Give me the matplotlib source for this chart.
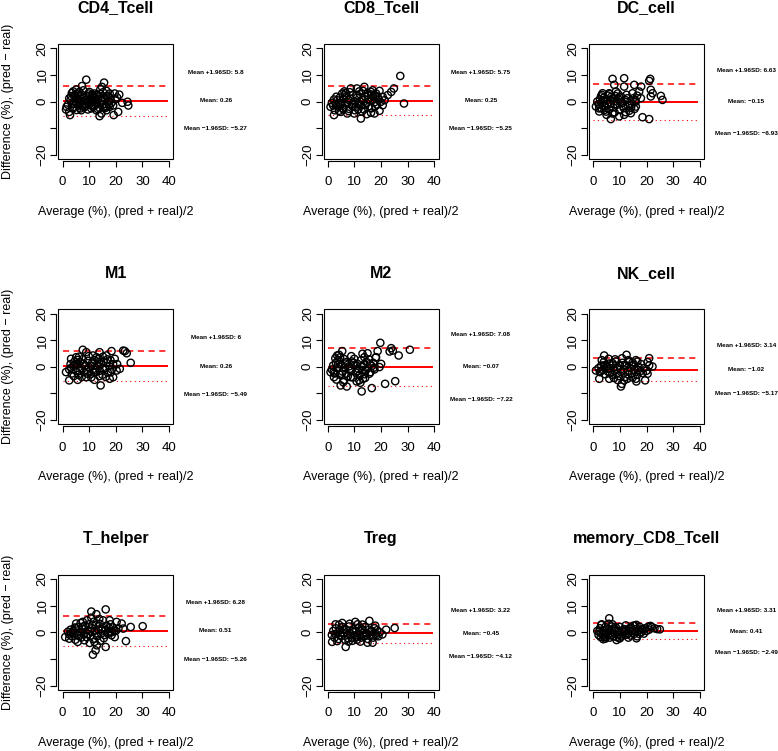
import numpy as np
import matplotlib
matplotlib.use("Agg")
import matplotlib.pyplot as plt
from matplotlib.patches import Rectangle

plt.rcParams['font.family'] = ['Liberation Sans', 'DejaVu Sans']

# panel names and the Bland-Altman limits printed on the right of each panel
names = ["CD4_Tcell", "CD8_Tcell", "DC_cell",
         "M1", "M2", "NK_cell",
         "T_helper", "Treg", "memory_CD8_Tcell"]
upper = [5.8, 5.75, 6.63, 6, 7.08, 3.14, 6.28, 3.22, 3.31]
means = [0.26, 0.25, -0.15, 0.26, -0.07, -1.02, 0.51, -0.45, 0.41]
lower = [-5.27, -5.25, -6.93, -5.49, -7.22, -5.17, -5.26, -4.12, -2.49]

# (average, difference) pairs
cd4_pts = [(8.9, 8.2), (15.6, 7.1), (14.8, 5.5), (7.3, 5.8), (5.1, 4.5), (3.5, 3.2), (4.4, 2.4),
           (6.3, 3.6), (10.1, 3.6), (12, 3), (16.5, 4), (17.7, 3), (19.6, 3), (21.3, 2.6),
           (22.4, -0.5), (24.4, -0.1), (24.7, -1.5), (20.9, -3.9), (19.2, -5.1), (13.9, -5.5),
           (14.6, -4.5), (2.8, -5.1), (1.3, -3), (2.5, -3.9), (4, -2.6), (7, -3.3), (9.5, -3),
           (11.4, -2), (12.7, -3.3), (16.5, -3.3), (17.7, -2), (18.4, -0.5),
           (3.0, 0.5), (3.5, -1), (4.5, 1.5), (5.0, -0.5), (5.5, 0.8), (6.0, -1.5), (6.5, 2),
           (7.0, 0), (7.5, -1.8), (8.0, 1.2), (8.5, -0.8), (9.0, 2.2), (9.5, 0.3), (10.0, -1.2),
           (10.5, 1), (11.0, -0.3), (11.5, 1.8), (12.0, -1.6), (12.5, 0.6), (13.0, -0.8),
           (13.5, 2), (14.0, -2.5), (14.5, 0.4), (15.0, 1.5), (15.5, -1), (16.0, 0.8),
           (16.5, -1.8), (17.0, 2.2), (17.5, 0), (18.0, 1.2), (2.0, -1.2), (4.0, 3.8), (5.8, 3),
           (6.8, -2.6), (8.2, -2.2), (9.8, 3), (11.2, 2.6), (12.8, 2.5), (13.2, -2.8),
           (15.2, 3.5), (16.2, -2.4), (19.0, -1.5), (19.8, 0.8), (20.5, 1.5), (7.8, 4.2),
           (10.8, -2.6), (3.8, -2.2), (5.3, -3.2), (14.2, 4.6), (1.5, -2), (2.5, 1.2),
           (3.2, 2), (4.2, -0.8), (5.2, 2.8), (6.2, 0.6), (7.2, 2.6), (8.4, -1.6), (9.2, -0.3),
           (10.2, 2.2), (11.2, -1.6), (12.2, 1.2), (13.4, 0.8), (14.2, 2.8), (15.4, -2.2),
           (16.4, 2), (17.4, -1.2), (6.4, -0.4), (8.8, 0.6), (12.4, -0.2)]

cd8_pts = [(27.2, 9.6), (28.6, -0.75), (24.8, 4.9), (23.8, 3.6), (22.5, 2.4), (20.6, 1.75),
           (13.7, 5.5), (10.9, 4.9), (8.6, 4.9), (6.7, 3.25), (5.4, 3), (2.3, 0.75), (1, -2),
           (2.3, -5.1), (4.8, -3.9), (7.3, -4.5), (9.9, -4.5), (12.4, -6.4), (14.6, -4.75),
           (16.2, -4.25), (17.5, -4.5), (19.4, -3.5), (20.6, -1.4), (21.3, 0.5), (16.2, 3.6),
           (18.1, 3), (19.4, 4), (15, 2.4),
           (3, -1), (3.5, 0.5), (4, -2), (4.5, 1.5), (5, -0.5), (5.5, -2.5), (6, 0.8),
           (6.5, -1.2), (7, 2), (7.5, -0.2), (8, -2.8), (8.5, 1), (9, -1), (9.5, 2.5), (10, 0),
           (10.5, -2), (11, 1.5), (11.5, -0.8), (12, 2.8), (12.5, -1.5), (13, 0.5), (13.5, -3),
           (14, 1.8), (14.5, -0.5), (15, 3.2), (15.5, -1.8), (16, 0.6), (16.5, -2.5), (17, 1.8),
           (17.5, -0.3), (18, 2.2), (18.5, -1.2), (19, 0.8), (19.8, -0.2), (6.2, 3.8), (8.2, 3.5),
           (11.8, 3.8), (13.2, 4), (16.8, 4.2), (2.6, -3.3), (4.2, -3.5), (7.8, -3.6),
           (10.2, -3.3), (12.8, -3.8), (2, -1.5), (1.5, -0.5),
           (3.2, 1.8), (4.8, -1.2), (6.4, 2.4), (7.8, 0.6), (9.4, -2), (10.8, 2.2), (12.2, 0),
           (13.8, -1.2), (15.2, 0.8), (16.4, 2.6), (17.8, -1.8), (18.8, 1.6), (5.8, -3), (11.4, -3)]

dc_pts = [(11.6, 8.75), (7.25, 8.5), (21.4, 8.5), (21, 7.75), (11.6, 5.6), (15.4, 6.25),
          (18, 5.6), (21.6, 4.4), (22.3, 3.1), (21.6, 1.9), (25.4, 2.1), (26, 0.6), (7.9, 6.25),
          (3.5, 3.1), (2.9, 1.9), (6, 3.1), (8.5, 3.75), (14.75, 3.1), (17.25, 3.75), (1, -1.9),
          (2.25, -3.75), (6.6, -6.6), (9.75, -5.6), (11.6, -5), (14.1, -4.4), (18.5, -5.9),
          (21, -6.6), (5, -5), (8, -4.1), (16, -1.9), (17.9, 1.25),
          (1.5, 0), (2, -1), (2.5, 0.8), (3, -2.5), (3.5, -0.5), (4, 1.5), (4.5, -1.8), (5, 0.3),
          (5.5, 2.2), (6, -3), (6.5, -0.8), (7, 1), (7.5, -2.2), (8, 0.2), (8.5, 2), (9, -1.2),
          (9.5, 0.8), (10, -3.2), (10.5, 1.8), (11, -0.5), (11.5, -2.5), (12, 0.6), (12.5, 2.5),
          (13, -1.5), (13.5, -3.5), (14, 0.2), (14.5, -1), (15, 1.2), (15.5, -2.8), (16, 0),
          (3.2, 2.5), (6.2, 2.8), (9.2, 3), (12.2, -4), (7.2, -4.5), (4.8, -3.8), (16.5, 2.2),
          (2.2, -2.6), (3.8, 0.4), (5.2, -1), (6.8, 1.8), (8.2, -1), (9.8, 1.6), (11.2, -1.8),
          (12.8, 1.2), (14.2, -2.4), (15.8, 0.4), (4.2, -3.2), (10.2, -0.2)]

m1_pts = [(7.6, 6.4), (8.9, 5.5), (13.9, 5.5), (18.4, 5.9), (22.8, 6.1), (24.1, 5.1),
          (23.4, 5.9), (25.6, 1.5), (3.2, 3), (5.1, 3.6), (11.4, 4.25), (16.5, 4.25), (19.6, 3),
          (21.5, -0.75), (20.3, -1.4), (1.3, -2), (2.5, -5.1), (5.7, -4.9), (8.9, -3.9),
          (12, -4.9), (14.3, -7), (17.7, -4.5), (19, -3.9),
          (2.5, -1), (3, 1), (3.5, -2.5), (4, 0.3), (4.5, 2), (5, -1.5), (5.5, 0.8), (6, -3),
          (6.5, 1.8), (7, -0.5), (7.5, 2.8), (8, -2), (8.5, 0.5), (9, -1.2), (9.5, 2.2), (10, -0.2),
          (10.5, -2.8), (11, 1.2), (11.5, -0.8), (12, 2.5), (12.5, -2), (13, 0.2), (13.5, 3),
          (14, -1.5), (14.5, 1), (15, -3), (15.5, 2), (16, -0.5), (16.5, 1.5), (17, -2.2),
          (17.5, 0.3), (18, 2.5), (18.5, -1), (19, 1), (6.2, 3.8), (9.8, 4), (12.8, 3.6),
          (15.2, 3.8), (4.2, -3.5), (7.2, -3.8), (10.8, -4), (13.8, -3.5), (16.2, -3.8), (20.5, 1),
          (3.2, -0.4), (4.8, 1), (6.4, -1.6), (7.8, 1.2), (9.4, -2.6), (10.8, 0.4), (12.2, -1.2),
          (13.6, 1.8), (15.4, -0.8), (16.8, 2.8), (18.2, -2), (5.8, 2.6), (11.8, -2.2)]

m2_pts = [(19.7, 9), (30.8, 6.4), (26.6, 4.25), (23.8, 7), (23.2, 5.75), (24.4, 6.1),
          (18.7, 5.9), (18.1, 3.6), (25.3, -5.4), (21.5, -6.4), (16.5, -8), (12.7, -9.25),
          (7.1, -7.4), (4.8, -7), (5.4, 5.9), (3.5, 4.25), (9.9, 3), (13, 4.9), (14.9, 5.1),
          (13.7, 3.6), (1, -2), (2.3, -3.9), (6.1, -5.1), (8.6, -3.9), (11.8, -5.1), (15.6, -2.6),
          (20, 1.1), (19.4, -0.1),
          (1.5, -1), (2, 0.5), (2.5, -2.5), (3, 1.5), (3.5, -0.5), (4, 2.5), (4.5, -3), (5, 0.8),
          (5.5, -1.8), (6, 3), (6.5, -0.3), (7, 1.8), (7.5, -3.5), (8, 0.2), (8.5, -1.5), (9, 2),
          (9.5, -4), (10, 0.5), (10.5, -2.2), (11, 1.2), (11.5, -0.8), (12, -3), (12.5, 2.5),
          (13, -1.2), (13.5, 0.8), (14, -4.2), (14.5, 1.8), (15, -0.5), (15.5, 2.8), (16, -2),
          (16.5, 0.3), (17, 1.5), (17.5, -1), (18, 3.5), (4.2, 4.5), (5.8, -5.8), (3.2, -4.8),
          (12.2, -6), (13.2, -4.5), (6.8, -2.6), (8.8, 4), (10.8, -5.5), (2.8, 3.2),
          (2.2, -1.8), (3.8, 1), (5.2, -2.6), (6.6, 1.2), (8.2, -0.8), (9.6, 1.4), (11.2, -1.6),
          (12.8, 0.2), (14.2, -1.4), (15.8, 1), (17.2, -0.4), (4.6, 3.6), (13.8, -2.8)]

nk_pts = [(4.1, 4.25), (12.5, 4.5), (16.6, 2), (21, 3.25), (20.4, 1.75), (22.25, 0.1),
          (10.4, -7.4), (10.75, -6.4), (11.6, -5.1), (19.5, -5.1), (16, -4.5), (20.4, -2.6),
          (2.25, -4.5), (6, -4.5), (1, -1.4),
          (2, -0.5), (2.5, -2), (3, 0.5), (3.5, -1.2), (4, 1.8), (4.5, -2.8), (5, 0), (5.5, -1.8),
          (6, 1.2), (6.5, -0.5), (7, -3), (7.5, 0.8), (8, -1.5), (8.5, 2), (9, -0.8), (9.5, -3.5),
          (10, 0.3), (10.5, -2), (11, 1.5), (11.5, -1), (12, -3.8), (12.5, 0.5), (13, -1.5),
          (13.5, 1.8), (14, -0.5), (14.5, -2.5), (15, 0.8), (15.5, -1.2), (16, 2.5), (16.5, -3),
          (17, 0), (17.5, -1.8), (18, 1), (19, -0.5), (20, -1.5), (21, 0.5), (3.2, 2.5),
          (5.8, 3), (8.2, 2.8), (10.8, 3.2), (13.2, 2.5), (7.8, -4.2), (9.2, -5), (12.8, -4.5),
          (14.8, -4), (16.2, -5.5),
          (2.8, -1.6), (4.2, 0.6), (5.8, -0.8), (7.2, 1.4), (8.8, -2.6), (10.2, -1), (11.8, 0.6),
          (13.2, -2.8), (14.8, 1.6), (16.8, -1.2), (18.6, -2.4), (6.2, -2.2)]

th_pts = [(16.2, 8.6), (10.8, 7.8), (12.7, 6.8), (10.8, 5.5), (30.1, 2.3), (25.6, 2),
          (22.8, 1.4), (22.2, 3.3), (20.3, 3.9), (23.8, -3.3), (16.2, -5.5), (12.4, -6.8),
          (11.4, -8.4), (12.9, -4.9), (12, -3.6), (5.7, -3.6), (2.5, -2.4), (1, -1.8),
          (19.6, -1.8), (18.4, -1.1), (5.1, 3.3), (7.6, 3.9), (15.2, 4.5), (17.7, 4.5),
          (2, 0.2), (2.5, -0.8), (3, 1), (3.5, -1.5), (4, 0.5), (4.5, -0.3), (5, 1.5), (5.5, -1),
          (6, 2), (6.5, 0), (7, -2), (7.5, 1.2), (8, -0.8), (8.5, 2.5), (9, -1.8), (9.5, 0.8),
          (10, 3), (10.5, -1.2), (11, 1.5), (11.5, -2.5), (12, 0.5), (12.5, 2.8), (13, -1.5),
          (13.5, 1), (14, 3.2), (14.5, -0.5), (15, 1.8), (15.5, -2.2), (16, 0.8), (16.5, 2.5),
          (17, -0.5), (17.5, 1.5), (18, 3), (18.5, 0), (19, 1.8), (20, 0.5), (21, 1.5), (9.2, 4.5),
          (11.8, 4), (13.8, 5), (6.8, 3.5), (4.8, -2.8), (8.2, -3), (10.2, -4), (14.2, -3.2),
          (3.2, -0.2), (4.6, 1.8), (6.2, -1.4), (7.8, 2.2), (9.6, -0.6), (11.2, 2.6), (12.6, -0.4),
          (14.6, 1.2), (15.8, -1), (17.6, 0.2), (19.4, 0.6), (10.4, 0.4)]

treg_pts = [(15.6, 4.3), (10.3, 3.9), (5.4, 3.5), (2.9, 3), (13, 2.9), (25.1, 1.6), (21.9, 1),
            (6.7, -5.5), (14.9, -3.9), (16.8, -3.9), (1.6, -3.6), (3.5, -3.3),
            (1.5, -1), (2, 0.5), (2.5, -2), (3, 1.5), (3.5, -0.5), (4, -2.5), (4.5, 0.8), (5, -1.5),
            (5.5, 2), (6, -0.2), (6.5, -2.8), (7, 1), (7.5, -1), (8, 2.2), (8.5, -0.5), (9, -2.2),
            (9.5, 1.2), (10, -1.2), (10.5, 0.3), (11, -2.8), (11.5, 1.8), (12, -0.8), (12.5, -2),
            (13, 0.8), (13.5, -1.5), (14, 2), (14.5, -0.3), (15, -2.5), (15.5, 1), (16, -1),
            (16.5, 0.5), (17, -2), (17.5, 1.5), (18, -0.5), (18.5, 0.8), (19, -1.5), (19.5, 0),
            (20.5, -0.8), (8.2, 3.2), (11.2, 3), (4.2, 2.8), (7.8, -3.5), (12.2, -3.5),
            (9.2, -3.2), (17.8, 2.5),
            (2.8, -0.6), (4.6, -1), (6.2, 1.2), (7.6, -2.2), (9.2, 0.4), (10.8, -1.8), (12.6, 1.4),
            (14.2, -1), (16.2, 0.2), (18.2, -1.2), (5.2, 0), (13.2, -0.2)]

mcd8_pts = [(6, 5.25), (3, 2.75), (25, 1.1), (20.6, 2.1), (21.5, 2.4), (15.6, 2.4), (8.75, -2.9),
            (10, -2.25), (3.75, -2.6), (16.25, -2.25),
            (1.5, 0.5), (2, -1), (2.5, 1.5), (3, -0.5), (3.5, 0.8), (4, -1.8), (4.5, 2), (5, 0),
            (5.5, -1.2), (6, 1.2), (6.5, -0.3), (7, 2.2), (7.5, -1.5), (8, 0.6), (8.5, 1.8),
            (9, -0.8), (9.5, 0.4), (10, 2), (10.5, -1.5), (11, 0.2), (11.5, 1.2), (12, -1),
            (12.5, 0.8), (13, -0.2), (13.5, 1.5), (14, -1.2), (14.5, 0.5), (15, 2.5), (15.5, -0.5),
            (16, 1.2), (16.5, -1.5), (17, 0.8), (17.5, 2), (18, 0), (18.5, 1.2), (19, -0.5),
            (19.5, 1.5), (20, 0.5), (21, 1), (22, 2), (23, 1.5), (24, 1.2), (5.8, 3.2), (7.2, 3),
            (3.2, 3), (12.2, 2.6), (16.2, 2.8), (2.8, -1.8), (6.2, -2), (9.8, -2.2), (13.2, -2),
            (4.5, -2.4),
            (2.2, 0.2), (3.8, -0.8), (5.2, 1.4), (6.8, -1), (8.2, 1.2), (9.8, -1), (11.4, 0.6),
            (12.8, -0.8), (14.2, 1.8), (15.8, 0.2), (17.2, -0.6), (18.8, 0.8), (4.8, -1.6),
            (8.8, -1.8)]

all_pts = [cd4_pts, cd8_pts, dc_pts, m1_pts, m2_pts, nk_pts, th_pts, treg_pts, mcd8_pts]


def fmt(v):
    # R prints negative numbers with a proper minus sign in these labels
    return str(v).replace('-', '\u2212')


W, H = 778, 751
fig = plt.figure(figsize=(W / 100, H / 100), dpi=100)

col_left = [58.3, 323.6, 589.0]
row_top = [44.0, 309.3, 574.8]
box = 115.0

for i in range(9):
    r, c = divmod(i, 3)
    ax = fig.add_axes([col_left[c] / W, 1 - (row_top[r] + box) / H, box / W, box / H])
    pts = np.array(all_pts[i])
    ax.scatter(pts[:, 0], pts[:, 1], s=27, facecolors='none', edgecolors='black',
               linewidths=1.0, zorder=3)

    ax.hlines(means[i], 0, 39.5, colors='red', linewidth=1.4, zorder=2)
    ax.hlines(upper[i], 0, 39.5, colors='red', linewidth=1.1, linestyles=(0, (4, 3)), zorder=2)
    ax.hlines(lower[i], 0, 39.5, colors='red', linewidth=0.8, linestyles=(0, (1, 3)), zorder=2)

    ax.set_xlim(-1.6, 41.6)
    ax.set_ylim(-21.6, 21.6)

    # R style: full box plus detached axes spanning the tick range
    for s in ['top', 'right']:
        ax.spines[s].set_visible(False)
    ax.add_patch(Rectangle((0, 0), 1, 1, transform=ax.transAxes, fill=False,
                           edgecolor='black', linewidth=0.8, clip_on=False))
    ax.spines['bottom'].set_position(('outward', 1.5))
    ax.spines['left'].set_position(('outward', 1.5))
    ax.spines['bottom'].set_bounds(0, 40)
    ax.spines['left'].set_bounds(-20, 20)
    ax.spines['bottom'].set_linewidth(0.8)
    ax.spines['left'].set_linewidth(0.8)

    ax.set_xticks([0, 10, 20, 30, 40])
    ax.set_xticklabels(['0', '10', '20', '30', '40'])
    ax.set_yticks([-20, -10, 0, 10, 20])
    ax.set_yticklabels(['\u221220', '', '0', '10', '20'])
    ax.tick_params(axis='both', direction='out', length=4, width=0.8, labelsize=9.5)
    ax.tick_params(axis='x', pad=7)
    ax.tick_params(axis='y', pad=1.5)
    for lab in ax.get_yticklabels():
        lab.set_rotation(90)
        lab.set_va('center')

    ax.annotate(names[i], xy=(0.5, 1), xycoords='axes fraction', xytext=(0, 36),
                textcoords='offset pixels', ha='center', va='center',
                fontsize=11.5, fontweight='bold')
    ax.annotate('Average (%), (pred + real)/2', xy=(0.5, 0), xycoords='axes fraction',
                xytext=(0, -53), textcoords='offset pixels', ha='center', va='center',
                fontsize=9)
    if c == 0:
        ax.annotate('Difference (%), (pred \u2212 real)', xy=(0, 0.5), xycoords='axes fraction',
                    xytext=(-50, 0), textcoords='offset pixels', ha='center', va='center',
                    rotation=90, fontsize=9)

    ax.text(57.5, upper[i] + 5, 'Mean +1.96SD: ' + fmt(upper[i]), ha='center', va='center',
            fontsize=4.6, fontweight='bold', clip_on=False)
    ax.text(57.5, means[i], 'Mean: ' + fmt(means[i]), ha='center', va='center',
            fontsize=4.6, fontweight='bold', clip_on=False)
    ax.text(57.5, lower[i] - 5, 'Mean \u22121.96SD: ' + fmt(lower[i]),
            ha='center', va='center', fontsize=4.6, fontweight='bold', clip_on=False)

plt.savefig('out.png', dpi=100, facecolor='white')
